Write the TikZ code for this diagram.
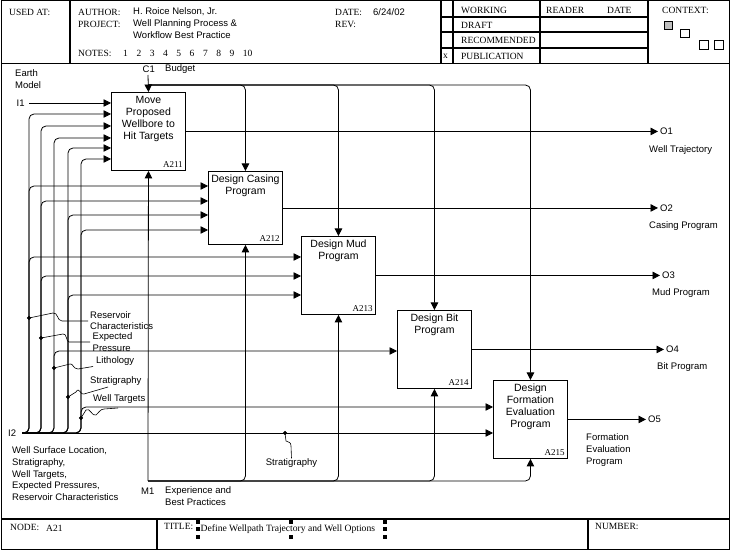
\documentclass[tikz,border=0pt]{standalone}
\usepackage{fontspec}
\setmainfont{Liberation Serif}
\setsansfont{Liberation Sans}
\usetikzlibrary{arrows.meta}
\begin{document}
\begin{tikzpicture}[x=1pt,y=-1pt,
  every node/.style={inner sep=0pt},
  sans/.style={font=\sffamily\fontsize{9.5}{11.8}\selectfont},
  lab/.style={sans, anchor=west},
  mlab/.style={sans, anchor=north west, align=left},
  hdr/.style={font=\rmfamily\fontsize{9.5}{12}\selectfont, anchor=west},
  func/.style={draw, line width=0.9pt, anchor=north west, minimum width=74pt, minimum height=78pt},
  ftext/.style={font=\sffamily\fontsize{10.5}{12}\selectfont, align=center, anchor=north},
  fid/.style={font=\rmfamily\fontsize{9}{10}\selectfont, anchor=south east},
  conn/.style={line width=0.8pt, rounded corners=5pt},
  arr/.style={conn, -{Triangle[length=7.5pt,width=7.5pt]}},
  callout/.style={line width=0.6pt},
  cdot/.style={circle, fill=black, draw=black, minimum size=3.5pt, inner sep=0pt},
  hdl/.style={rectangle, fill, minimum size=3.2pt, inner sep=0pt},
  thickline/.style={line width=2.5pt},
  midline/.style={line width=1.6pt},
]
\useasboundingbox (0,0) rectangle (732,553);

% ---------- frame, header, footer ----------
\draw[line width=1pt] (1,1) rectangle (729,550);
\draw[line width=0.9pt] (1,63) -- (729,63);
\draw[thickline] (70,1) -- (70,63);
\draw[thickline] (441,1) -- (441,63);
\draw[midline] (453,1) -- (453,63);
\draw[midline] (540,1) -- (540,63);
\draw[midline] (648,1) -- (648,63);
\draw[midline] (441,17) -- (648,17);
\draw[midline] (441,32) -- (648,32);
\draw[midline] (441,48) -- (648,48);

\node[hdr] (usedat) at (9,12) {USED AT:};
\node[hdr] (author) at (78,12) {AUTHOR:};
\node[lab] (authname) at (133,12) {H. Roice Nelson, Jr.};
\node[hdr] (project) at (78,24) {PROJECT:};
\node[mlab] (projname) at (133,19.5) {Well Planning Process \&\\Workflow Best Practice};
\node[hdr] (notes) at (78,53) {NOTES:};
\foreach \n [count=\i] in {1,...,10}
  \node[hdr, name=note\i] at ({109.7+13.3*\i},53) {\n};
\node[hdr] (date) at (335,12) {DATE:};
\node[lab] (dateval) at (373,12) {6/24/02};
\node[hdr] (rev) at (335,24) {REV:};

\node[hdr] (working) at (461,10) {WORKING};
\node[hdr] (reader) at (546,10) {READER};
\node[hdr] (rdate) at (607,10) {DATE};
\node[hdr] (draft) at (461,25) {DRAFT};
\node[hdr] (recom) at (461,40.5) {RECOMMENDED};
\node[hdr] (publ) at (461,56) {PUBLICATION};
\node[hdr] (xmark) at (443,56) {x};
\node[hdr] (context) at (662,10) {CONTEXT:};
\filldraw[fill=black!25, line width=0.6pt] (664,21) rectangle (672,29);
\draw[line width=0.6pt] (680,29) rectangle (689,37);
\draw[line width=0.6pt] (699,40) rectangle (708,49);
\draw[line width=0.6pt] (714,40) rectangle (723,49);

\draw[line width=1.2pt] (1,519) -- (729,519);
\draw[thickline] (157,519) -- (157,550);
\draw[thickline] (588,519) -- (588,550);
\node[hdr] (nodelab) at (10,527) {NODE:};
\node[hdr] (nodeval) at (46,528.5) {A21};
\node[hdr] (titlelab) at (164,526) {TITLE:};
\node[font=\rmfamily\fontsize{9.6}{11}\selectfont, anchor=west] (titletxt) at (200.5,529.5) {Define Wellpath Trajectory and Well Options};
\node[hdl] (h1) at (198,522) {};
\node[hdl] (h2) at (291,522) {};
\node[hdl] (h3) at (385,522) {};
\node[hdl] (h4) at (198,529) {};
\node[hdl] (h5) at (385,529) {};
\node[hdl] (h6) at (198,537) {};
\node[hdl] (h7) at (291,537) {};
\node[hdl] (h8) at (385,537) {};
\node[hdr] (numlab) at (595,526) {NUMBER:};

% ---------- activity boxes ----------
\node[func] (A211) at (111,92) {};
\node[func, minimum height=73pt] (A212) at (208,171) {};
\node[func] (A213) at (301,236) {};
\node[func] (A214) at (397,310) {};
\node[func] (A215) at (493,380) {};

\node[ftext] (t211) at ([yshift=-4pt]A211.north) {Move\\Proposed\\Wellbore to\\Hit Targets};
\node[ftext] (t212) at ([yshift=-4pt]A212.north) {Design Casing\\Program};
\node[ftext] (t213) at ([yshift=-4pt]A213.north) {Design Mud\\Program};
\node[ftext] (t214) at ([yshift=-4pt]A214.north) {Design Bit\\Program};
\node[ftext] (t215) at ([yshift=-4pt]A215.north) {Design\\Formation\\Evaluation\\Program};

\node[fid] (i211) at ([xshift=-3pt,yshift=3pt]A211.south east) {A211};
\node[fid] (i212) at ([xshift=-3pt,yshift=3pt]A212.south east) {A212};
\node[fid] (i213) at ([xshift=-3pt,yshift=3pt]A213.south east) {A213};
\node[fid] (i214) at ([xshift=-3pt,yshift=3pt]A214.south east) {A214};
\node[fid] (i215) at ([xshift=-3pt,yshift=3pt]A215.south east) {A215};

% ---------- boundary labels ----------
\node[mlab] (earth) at (15,69.5) {Earth\\Model};
\node[lab] (i1lab) at (16.5,103) {I1};
\node[lab] (i2lab) at (8,433) {I2};
\node[lab] (c1lab) at (142.5,69) {C1};
\node[lab] (budget) at (165,69) {Budget};
\node[lab] (m1lab) at (141,491) {M1};
\node[mlab] (exper) at (165,486.5) {Experience and\\Best Practices};
\node[mlab] (wsl) at (12,446.5) {Well Surface Location,\\Stratigraphy,\\Well Targets,\\Expected Pressures,\\Reservoir Characteristics};

\node[lab] (o1lab) at (660,131) {O1};
\node[lab] (o1txt) at (649,150) {Well Trajectory};
\node[lab] (o2lab) at (660,208) {O2};
\node[lab] (o2txt) at (649,226) {Casing Program};
\node[lab] (o3lab) at (662,275) {O3};
\node[lab] (o3txt) at (652,293) {Mud Program};
\node[lab] (o4lab) at (666,349) {O4};
\node[lab] (o4txt) at (657,367) {Bit Program};
\node[lab] (o5lab) at (648,419) {O5};
\node[mlab] (o5txt) at (586,433.5) {Formation\\Evaluation\\Program};

% ---------- coordinates ----------
\coordinate (I1s) at (29,103);
\coordinate (I2s) at (22,433);
\coordinate (vR) at (29,433);
\coordinate (vE) at (41,433);
\coordinate (vL) at (54,433);
\coordinate (vS) at (68,433);
\coordinate (vW) at (81,433);
\coordinate (C1s) at (148,75);
\coordinate (Cfork) at (148,85);
\coordinate (M1s) at (148,481);

% ---------- inputs ----------
\draw[arr] (I1s) -- ([yshift=-11pt]A211.north west);
\draw[arr] (I2s) -- (vR) |- ([yshift=-22pt]A211.north west);
\draw[arr] (I2s) -- (vE) |- ([yshift=-34pt]A211.north west);
\draw[arr] (I2s) -- (vL) |- ([yshift=-46pt]A211.north west);
\draw[arr] (I2s) -- (vS) |- ([yshift=-56pt]A211.north west);
\draw[arr] (I2s) -- (vW) |- ([yshift=-67pt]A211.north west);

\draw[arr] (I2s) -- (vR) |- ([yshift=-15pt]A212.north west);
\draw[arr] (I2s) -- (vE) |- ([yshift=-30pt]A212.north west);
\draw[arr] (I2s) -- (vS) |- ([yshift=-44pt]A212.north west);
\draw[arr] (I2s) -- (vW) |- ([yshift=-59pt]A212.north west);

\draw[arr] (I2s) -- (vR) |- ([yshift=-21pt]A213.north west);
\draw[arr] (I2s) -- (vE) |- ([yshift=-40pt]A213.north west);
\draw[arr] (I2s) -- (vS) |- ([yshift=-59pt]A213.north west);

\draw[arr] (I2s) -- (vL) |- ([yshift=-41pt]A214.north west);

\draw[arr] (I2s) -- (vW) |- ([yshift=-27pt]A215.north west);
\draw[arr] (I2s) -- (I2s -| A215.west);

% ---------- controls ----------
\draw[arr] (C1s) -- (A211.north);
\draw[arr] (Cfork) -| (A212.north);
\draw[arr] (Cfork) -| (A213.north);
\draw[arr] (Cfork) -| (A214.north);
\draw[arr] (Cfork) -| (A215.north);

% ---------- mechanisms ----------
\draw[arr] (M1s) -- (A211.south);
\draw[arr] (M1s) -| (A212.south);
\draw[arr] (M1s) -| (A213.south);
\draw[arr] (M1s) -| (A214.south);
\draw[arr] (M1s) -| (A215.south);

% ---------- outputs ----------
\draw[arr, shorten >=2pt] (A211.east) -- (A211.east -| o1lab.west);
\draw[arr, shorten >=2pt] (A212.east) -- (A212.east -| o2lab.west);
\draw[arr, shorten >=2pt] (A213.east) -- (A213.east -| o3lab.west);
\draw[arr, shorten >=2pt] (A214.east) -- (A214.east -| o4lab.west);
\draw[arr, shorten >=2pt] (A215.east) -- (A215.east -| o5lab.west);

% ---------- callouts ----------
\node[mlab, font=\sffamily\fontsize{9.5}{11}\selectfont] (resv) at (90,311) {Reservoir\\Characteristics};
\node[mlab] (expt) at (92.5,332.5) {Expected\\Pressure};
\node[lab] (litho) at (96,361) {Lithology};
\node[lab] (strat) at (90,381) {Stratigraphy};
\node[lab] (wtarg) at (93,399) {Well Targets};
\node[lab, anchor=center] (strat2) at (291.5,463) {Stratigraphy};

\node[cdot] (dR) at (29,318) {};
\node[cdot] (dE) at (41,338) {};
\node[cdot] (dL) at (54,368) {};
\node[cdot] (dS) at (68,397) {};
\node[cdot] (dW) at (81,418) {};
\node[cdot] (dI) at (285,433) {};

\draw[callout] (dR.center) -- (53,313) .. controls (58,312) and (57,321) .. (62,321) -- (88,321);
\draw[callout] (dE.center) -- (63,334) .. controls (67,333) and (66,342) .. (69,342) -- (90,342);
\draw[callout] (dL.center) -- (70,364) .. controls (73,363) and (73,369) .. (78,369) -- (93,366.5);
\draw[callout] (dS.center) -- (76,392) .. controls (79,386) and (81,396) .. (84,394) -- (108,387);
\draw[callout] (dW.center) -- (86,410) .. controls (90,407) and (92,417) .. (96,415) .. controls (99,413) and (100,409) .. (104,409) -- (118,408);
\draw[callout] (dI.center) -- (286,441) .. controls (288,443) and (291,441) .. (291,446) -- (strat2.north);

\end{tikzpicture}
\end{document}
